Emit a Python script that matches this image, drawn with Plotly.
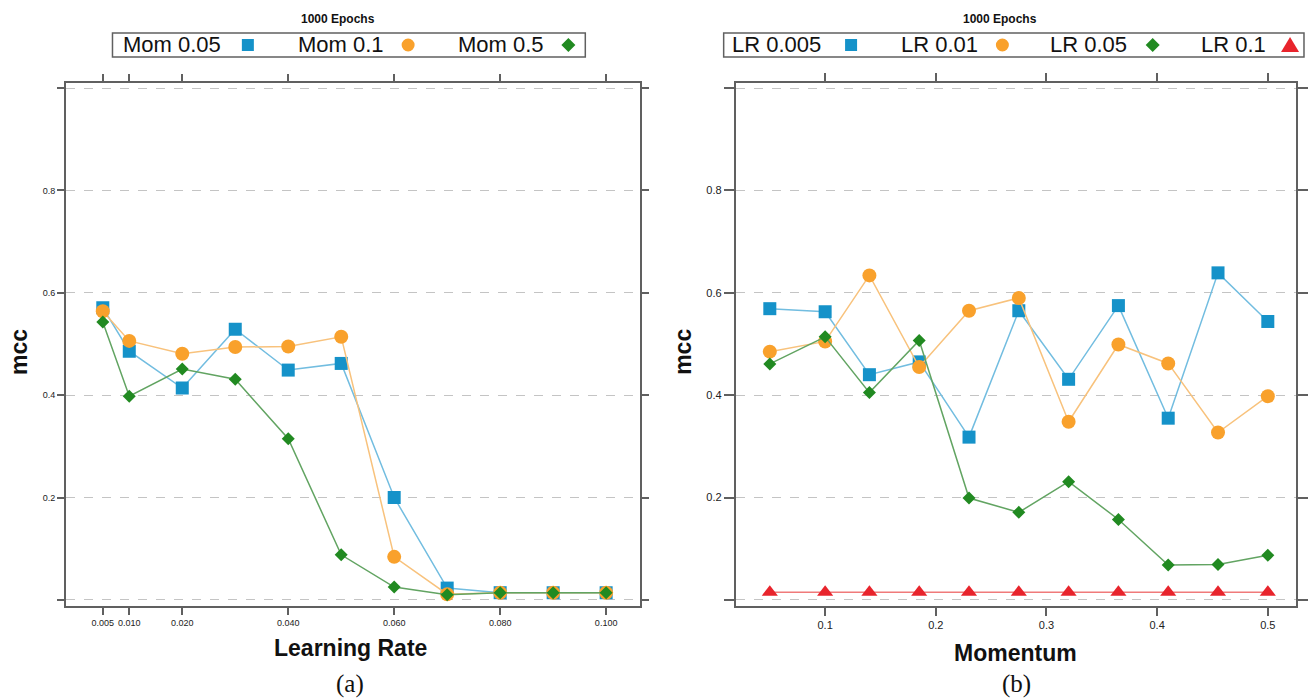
import plotly.graph_objects as go

# ---- panel (a): mcc versus learning rate, one series per momentum ----
learning_rate = [0.005, 0.01, 0.02, 0.03, 0.04, 0.05, 0.06, 0.07, 0.08, 0.09, 0.1]
mom_005 = [0.571, 0.486, 0.414, 0.529, 0.449, 0.462, 0.200, 0.023, 0.014, 0.014, 0.014]
mom_01 = [0.564, 0.506, 0.481, 0.494, 0.495, 0.514, 0.084, 0.011, 0.014, 0.014, 0.014]
mom_05 = [0.543, 0.398, 0.451, 0.431, 0.315, 0.088, 0.025, 0.010, 0.014, 0.014, 0.014]
lr_tickvals = [0.005, 0.01, 0.02, 0.04, 0.06, 0.08, 0.1]
lr_ticktext = ["0.005", "0.010", "0.020", "0.040", "0.060", "0.080", "0.100"]

# ---- panel (b): mcc versus momentum, one series per learning rate ----
momentum = [0.05, 0.1, 0.14, 0.185, 0.23, 0.275, 0.32, 0.365, 0.41, 0.455, 0.5]
lr_0005 = [0.569, 0.563, 0.440, 0.465, 0.318, 0.565, 0.431, 0.575, 0.355, 0.639, 0.544]
lr_001 = [0.485, 0.505, 0.634, 0.455, 0.565, 0.590, 0.348, 0.499, 0.462, 0.327, 0.398]
lr_005 = [0.461, 0.514, 0.405, 0.507, 0.199, 0.171, 0.231, 0.157, 0.068, 0.069, 0.087]
lr_01 = [0.015, 0.015, 0.015, 0.015, 0.015, 0.015, 0.015, 0.015, 0.015, 0.015, 0.015]
mom_tickvals = [0.1, 0.2, 0.3, 0.4, 0.5]
mom_ticktext = ["0.1", "0.2", "0.3", "0.4", "0.5"]

mcc_tickvals = [0, 0.2, 0.4, 0.6, 0.8, 1.0]
mcc_ticktext = ["", "0.2", "0.4", "0.6", "0.8", ""]

left_names = ["Mom 0.05", "Mom 0.1", "Mom 0.5"]
right_names = ["LR 0.005", "LR 0.01", "LR 0.05", "LR 0.1"]

W, H = 1308, 699
BLUE, ORANGE, GREEN, RED = "#1592c9", "#f9a12c", "#218a21", "#e8242c"
BLUE_L, ORANGE_L, GREEN_L, RED_L = "#72bde0", "#f8c27c", "#62a462", "#f07a7a"
SANS = "Liberation Sans, Arial, Helvetica, sans-serif"
SERIF = "Liberation Serif, Times New Roman, serif"
AXIS_GREY = "#606060"


def px(x):
    return x / W


def py(y):
    return 1 - y / H


styles = [
    dict(symbol="square", size=13, color=BLUE, line=BLUE_L),
    dict(symbol="circle", size=14, color=ORANGE, line=ORANGE_L),
    dict(symbol="diamond", size=10, color=GREEN, line=GREEN_L),
    dict(symbol="triangle-up", size=14, color=RED, line=RED_L),
]

fig = go.Figure()


def add_series(x, y, name, st, xa, ya):
    fig.add_trace(go.Scatter(
        x=x, y=y, name=name, mode="lines+markers", showlegend=False,
        xaxis=xa, yaxis=ya,
        line=dict(color=st["line"], width=1.5),
        marker=dict(symbol=st["symbol"], size=st["size"], color=st["color"],
                    line=dict(width=0)),
    ))


for ys, name, st in zip([mom_005, mom_01, mom_05], left_names, styles):
    add_series(learning_rate, ys, name, st, "x", "y")
for ys, name, st in zip([lr_0005, lr_001, lr_005, lr_01], right_names, styles):
    add_series(momentum, ys, name, st, "x2", "y2")

common_axis = dict(
    showline=True, linecolor=AXIS_GREY, linewidth=1.5, mirror="ticks",
    ticks="outside", tickcolor=AXIS_GREY, tickwidth=1.5, zeroline=False,
)

fig.update_layout(
    width=W, height=H, margin=dict(l=0, r=0, t=0, b=0),
    paper_bgcolor="white", plot_bgcolor="white",
    font=dict(family=SANS, color="#222222"),
    xaxis=dict(domain=[px(66), px(643)], range=[-0.002, 0.1064],
               tickvals=lr_tickvals, ticktext=lr_ticktext, ticklen=7,
               tickfont=dict(size=9), showgrid=False, **common_axis),
    yaxis=dict(domain=[py(606), py(83)], range=[-0.012, 1.01],
               tickvals=mcc_tickvals, ticktext=mcc_ticktext, ticklen=7,
               tickfont=dict(size=9), showgrid=True, gridcolor="#c4c4c4",
               griddash="dash", gridwidth=1, **common_axis),
    xaxis2=dict(domain=[px(739), px(1302)], range=[0.0191, 0.5255], anchor="y2",
                tickvals=mom_tickvals, ticktext=mom_ticktext, ticklen=8,
                tickfont=dict(size=11), showgrid=False, **common_axis),
    yaxis2=dict(domain=[py(606), py(83)], range=[-0.012, 1.01], anchor="x2",
                tickvals=mcc_tickvals, ticktext=mcc_ticktext, ticklen=10,
                tickfont=dict(size=11), showgrid=True, gridcolor="#c4c4c4",
                griddash="dash", gridwidth=1, **common_axis),
)

annotations = []
shapes = []


def text(x, y, s, size, bold=False, family=SANS, angle=0, xanchor="center"):
    annotations.append(dict(
        x=px(x), y=py(y), xref="paper", yref="paper", text=f"<b>{s}</b>" if bold else s,
        showarrow=False, xanchor=xanchor, yanchor="middle", textangle=angle,
        font=dict(size=size, family=family, color="#111111"),
    ))


def key_marker(cx, cy, kind, color):
    common = dict(xref="paper", yref="paper", xsizemode="pixel", ysizemode="pixel",
                  xanchor=px(cx), yanchor=py(cy), fillcolor=color, line=dict(width=0))
    if kind == "square":
        shapes.append(dict(type="rect", x0=-6, x1=6, y0=-6, y1=6, **common))
    elif kind == "circle":
        shapes.append(dict(type="circle", x0=-6.5, x1=6.5, y0=-6.5, y1=6.5, **common))
    elif kind == "diamond":
        shapes.append(dict(type="path", path="M -7 0 L 0 7 L 7 0 L 0 -7 Z", **common))
    else:
        shapes.append(dict(type="path", path="M -9 -7 L 9 -7 L 0 8 Z", **common))


# legend (a)
text(340, 19, "1000 Epochs", 12, bold=True)
shapes.append(dict(type="rect", xref="paper", yref="paper", x0=px(113), x1=px(588),
                   y0=py(57), y1=py(33), line=dict(color=AXIS_GREY, width=1.5)))
for tx, mx, name, st in zip([122, 297, 458], [249, 410, 571], left_names, styles):
    text(tx, 45, name, 22, xanchor="left")
    key_marker(mx, 45, st["symbol"], st["color"])

# legend (b)
text(1005, 19, "1000 Epochs", 12, bold=True)
shapes.append(dict(type="rect", xref="paper", yref="paper", x0=px(727), x1=px(1310),
                   y0=py(57), y1=py(33), line=dict(color=AXIS_GREY, width=1.5)))
for tx, mx, name, st in zip([733, 903, 1053, 1205], [855, 1007, 1158, 1296],
                            right_names, styles):
    text(tx, 45, name, 22, xanchor="left")
    key_marker(mx, 45, st["symbol"], st["color"])

# axis titles and panel labels
text(19, 352, "mcc", 23, bold=True, angle=-90)
text(686, 352, "mcc", 23, bold=True, angle=-90)
text(352, 648, "Learning Rate", 23, bold=True)
text(1020, 653, "Momentum", 23, bold=True)
text(352, 684, "(a)", 25, family=SERIF)
text(1021, 684, "(b)", 25, family=SERIF)

fig.update_layout(annotations=annotations, shapes=shapes)
fig.write_html("out.html")
